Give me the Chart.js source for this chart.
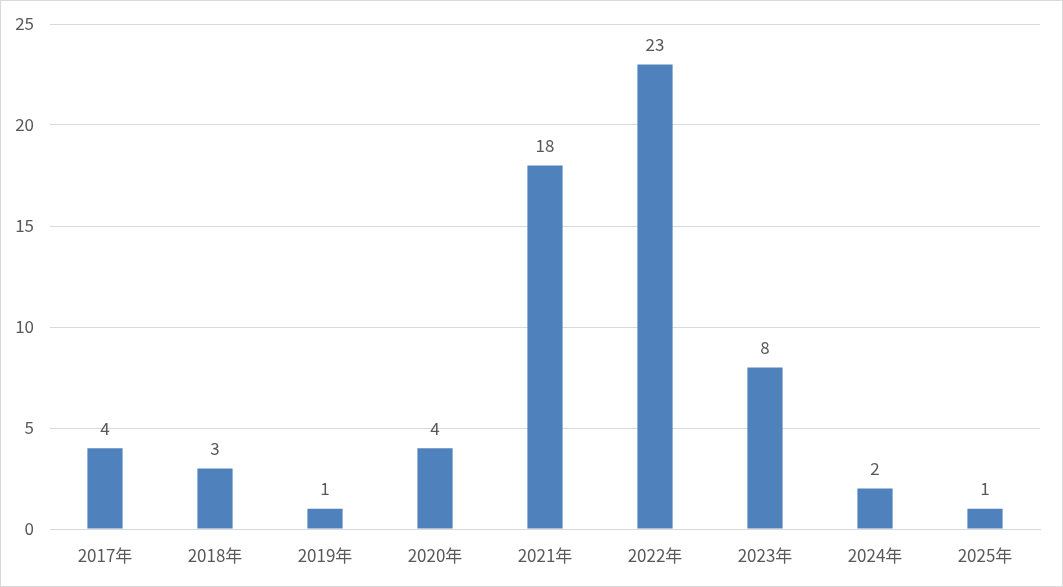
<!DOCTYPE html>
<html>
<head>
<meta charset="utf-8">
<script src="https://cdn.jsdelivr.net/npm/chart.js@4/dist/chart.umd.min.js"></script>
<style>
  html, body { margin: 0; padding: 0; background: #fff; }
  #wrap { width: 1063px; height: 587px; box-sizing: border-box; border: 1px solid #d9d9d9; }
</style>
</head>
<body>
<div id="wrap"><canvas id="chart" width="1061" height="585"></canvas></div>
<script>
const years = ["2017年", "2018年", "2019年", "2020年", "2021年", "2022年", "2023年", "2024年", "2025年"];
const counts = [4, 3, 1, 4, 18, 23, 8, 2, 1];
const yTicks = [0, 5, 10, 15, 20, 25];

const textColor = "#595959";
const fontFamily = '"Noto Sans CJK SC", "Liberation Sans", sans-serif';

// draws the value above each bar
const barValues = {
    id: "barValues",
    afterDatasetsDraw(chart) {
        const ctx = chart.ctx;
        const meta = chart.getDatasetMeta(0);
        ctx.save();
        ctx.fillStyle = textColor;
        ctx.font = "17px " + fontFamily;
        ctx.textAlign = "center";
        ctx.textBaseline = "middle";
        meta.data.forEach((bar, i) => {
            ctx.fillText(String(counts[i]), bar.x, bar.y - 20);
        });
        ctx.restore();
    }
};

const ctx = document.getElementById("chart").getContext("2d");
new Chart(ctx, {
    type: "bar",
    data: {
        labels: years,
        datasets: [{
            data: counts,
            backgroundColor: "#4f81bd",
            barPercentage: 0.64,
            categoryPercentage: 0.5
        }]
    },
    options: {
        responsive: false,
        animation: false,
        layout: { padding: { top: 23, right: 22, left: 0, bottom: 0 } },
        plugins: {
            legend: { display: false },
            tooltip: { enabled: false }
        },
        scales: {
            x: {
                grid: { display: false },
                border: { color: "#d9d9d9", width: 1 },
                ticks: { color: textColor, font: { size: 17, family: fontFamily }, padding: 8 },
                afterFit: scale => { scale.height = 57; }
            },
            y: {
                min: 0,
                max: 25,
                afterBuildTicks: scale => { scale.ticks = yTicks.map(v => ({ value: v })); },
                grid: { color: "#d9d9d9", drawTicks: false },
                border: { display: false },
                ticks: { color: textColor, font: { size: 17, family: fontFamily }, padding: 16 },
                afterFit: scale => {
                    scale.width = 49;
                    scale.paddingTop = 0;
                    scale.paddingBottom = 0;
                }
            }
        }
    },
    plugins: [barValues]
});
</script>
</body>
</html>
